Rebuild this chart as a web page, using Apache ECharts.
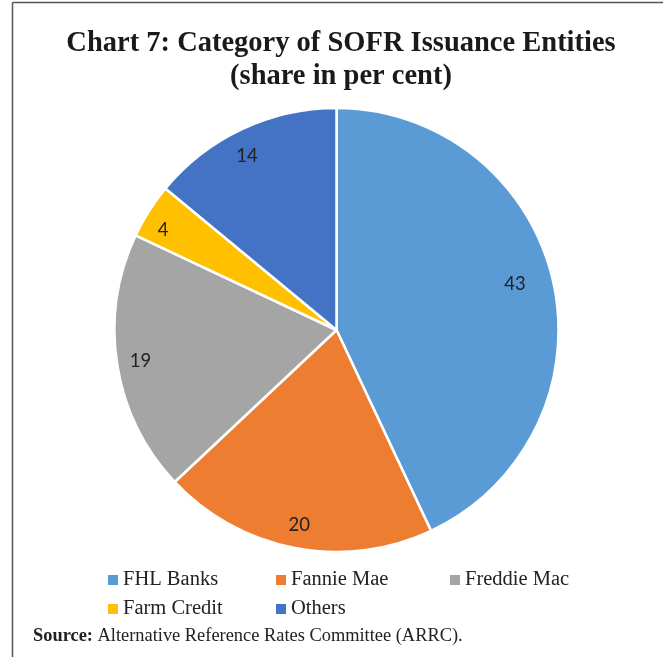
<!DOCTYPE html>
<html><head><meta charset="utf-8">
<script src="https://cdn.jsdelivr.net/npm/echarts@6/dist/echarts.min.js"></script>
<style>html,body{margin:0;padding:0;background:#fff}#c{width:663px;height:657px}</style>
</head><body><div id="c"></div>
<script>
const categories = ['FHL Banks', 'Fannie Mae', 'Freddie Mac', 'Farm Credit', 'Others'];
const shares = [43, 20, 19, 4, 14];
const colors = ['#5B9BD5', '#ED7D31', '#A5A5A5', '#FFC000', '#4472C4'];
const titleText = 'Chart 7: Category of SOFR Issuance Entities\n(share in per cent)';
const sourceLabel = 'Source:';
const sourceText = ' Alternative Reference Rates Committee (ARRC).';

const chart = echarts.init(document.getElementById('c'), null, {renderer: 'canvas'});
const R = 222;
const pieData = categories.map((n, i) => ({name: n, value: shares[i], itemStyle: {color: colors[i]}}));
const labelData = categories.map((n, i) => {
  const d = {name: n, value: shares[i]};
  if (i === 0) d.label = {offset: [-15, -3]};
  if (i === 4) d.label = {offset: [-5, 6]};
  if (i === 3) d.label = {offset: [-6, 6]};
  return d;
});
// legend columns (layout only): column index for each category
const legendCols = [[0, 3], [1, 4], [2]];
const colLeft = [103, 271, 445];
const legends = legendCols.map((idxs, c) => ({
  left: colLeft[c], top: 564, orient: 'vertical',
  itemWidth: 10, itemHeight: 10, itemGap: 7, icon: 'rect',
  data: idxs.map(i => ({name: categories[i], itemStyle: {color: colors[i]}})),
  textStyle: {fontFamily: 'Liberation Serif', fontSize: 20.5, lineHeight: 22, color: '#222'},
  itemStyle: {borderWidth: 0}
}));
chart.setOption({
  animation: false,
  title: {
    text: titleText, left: 336, textAlign: 'center', top: 22,
    textStyle: {fontFamily: 'Liberation Serif', fontWeight: 'bold', fontSize: 28.5, lineHeight: 33, color: '#1a1a1a'}
  },
  legend: legends,
  series: [
    {
      type: 'pie', center: [336.5, 330], radius: [0, R], startAngle: 90, clockwise: true,
      data: pieData, label: {show: false}, labelLine: {show: false},
      itemStyle: {borderColor: '#fff', borderWidth: 2.5}, silent: true
    },
    {
      type: 'pie', center: [336.5, 330], radius: [R * 0.76, R], startAngle: 90, clockwise: true,
      data: labelData, silent: true, legendHoverLink: false,
      itemStyle: {color: 'rgba(0,0,0,0)', borderWidth: 0},
      label: {show: true, position: 'inside', formatter: '{c}', fontFamily: 'Lato', fontSize: 18.5, color: '#222'},
      labelLine: {show: false}
    }
  ],
  graphic: [
    {type: 'line', shape: {x1: 12.5, y1: 2.5, x2: 663, y2: 2.5}, style: {stroke: '#555', lineWidth: 1.5}, silent: true},
    {type: 'line', shape: {x1: 12.5, y1: 2.5, x2: 12.5, y2: 657}, style: {stroke: '#555', lineWidth: 1.5}, silent: true},
    {type: 'text', left: 33, top: 627, style: {
      text: '{b|' + sourceLabel + '}{r|' + sourceText + '}',
      rich: {
        b: {fontFamily: 'Liberation Serif', fontWeight: 'bold', fontSize: 18.4, fill: '#222'},
        r: {fontFamily: 'Liberation Serif', fontSize: 18.4, fill: '#222'}
      }
    }}
  ]
});
</script></body></html>
